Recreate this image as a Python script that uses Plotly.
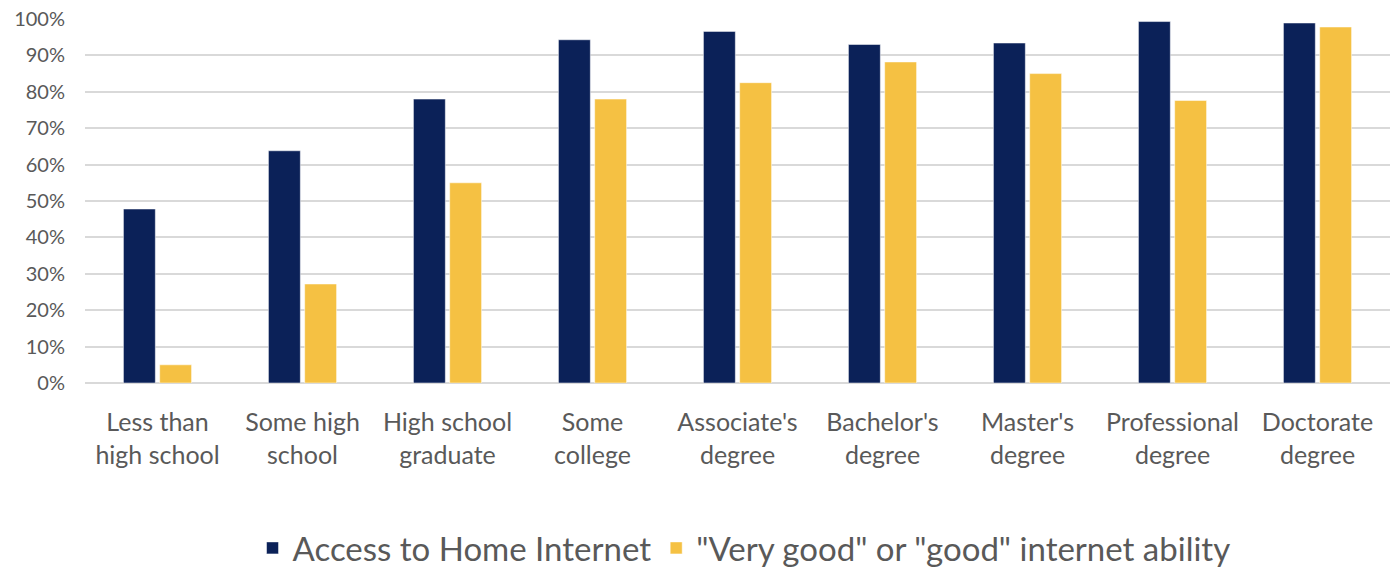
import plotly.graph_objects as go

categories = ["Less than<br>high school", "Some high<br>school", "High school<br>graduate",
              "Some<br>college", "Associate's<br>degree", "Bachelor's<br>degree",
              "Master's<br>degree", "Professional<br>degree", "Doctorate<br>degree"]
access_home_internet = [0.478, 0.638, 0.78, 0.943, 0.966, 0.930, 0.934, 0.993, 0.989]
good_internet_ability = [0.050, 0.272, 0.550, 0.780, 0.825, 0.882, 0.850, 0.776, 0.978]
series_names = ["Access to Home Internet", "\"Very good\" or \"good\" internet ability"]
tick_vals = [0, 0.1, 0.2, 0.3, 0.4, 0.5, 0.6, 0.7, 0.8, 0.9, 1.0]
tick_text = ["0%", "10%", "20%", "30%", "40%", "50%", "60%", "70%", "80%", "90%", "100%"]

FONT = "Lato, Open Sans, sans-serif"
GRAY = "#595959"

fig = go.Figure()
fig.add_trace(go.Bar(x=categories, y=access_home_internet, name=series_names[0],
                     marker=dict(color="#0b2158", line=dict(color="#ffffff", width=0.5))))
fig.add_trace(go.Bar(x=categories, y=good_internet_ability, name=series_names[1],
                     marker=dict(color="#f5c143", line=dict(color="#ffffff", width=0.5))))

fig.update_layout(
    width=1396, height=569,
    margin=dict(l=85, r=6, t=19, b=186, autoexpand=False),
    paper_bgcolor="white", plot_bgcolor="white",
    barmode="group", bargap=0.5, bargroupgap=0.12,
    font=dict(family=FONT, color=GRAY),
    showlegend=True,
    legend=dict(orientation="h", x=0.505, xanchor="center",
                yref="container", y=0.037, yanchor="middle",
                font=dict(size=33, color=GRAY, family=FONT), itemwidth=30,
                traceorder="normal"),
    hovermode=False,
)
fig.update_yaxes(range=[0, 1], tickvals=tick_vals, ticktext=tick_text,
                 showgrid=True, gridcolor="#d9d9d9", gridwidth=1.5,
                 zeroline=True, zerolinecolor="#d9d9d9", zerolinewidth=1.5,
                 tickfont=dict(size=20, color=GRAY, family=FONT),
                 ticklabelstandoff=19, showline=False)
fig.update_xaxes(tickfont=dict(size=25, color=GRAY, family=FONT), showline=False,
                 ticklabelstandoff=22)

fig.write_html("out.html")
